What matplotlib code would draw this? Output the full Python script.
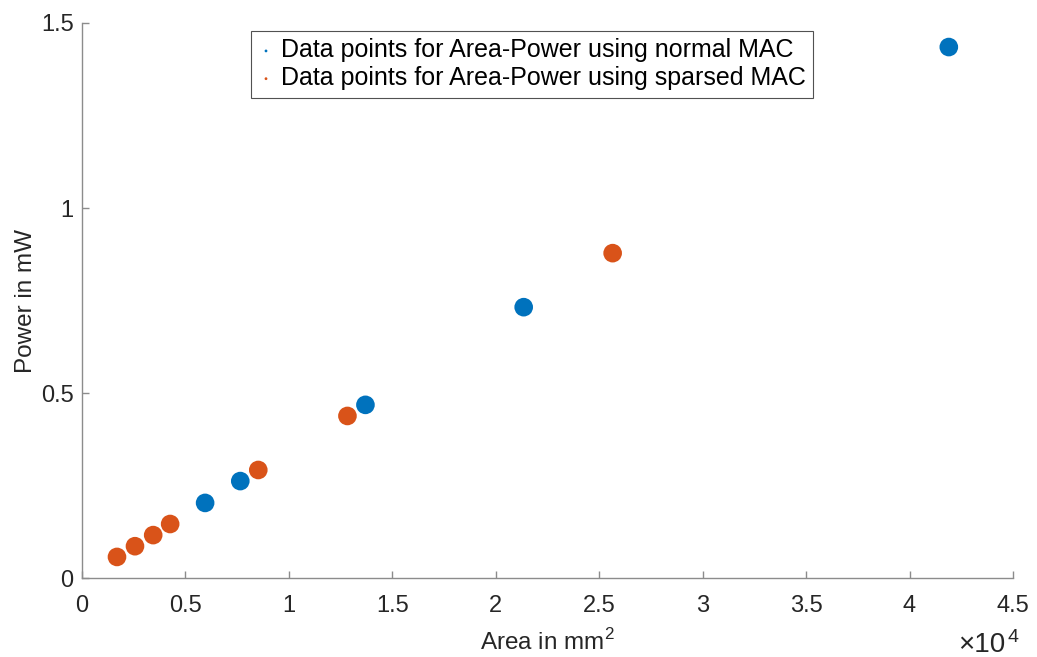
import matplotlib
matplotlib.use("Agg")
import matplotlib.pyplot as plt
from matplotlib.ticker import FuncFormatter

plt.rcParams['font.family'] = ['Liberation Sans', 'DejaVu Sans']
plt.rcParams['mathtext.fontset'] = 'custom'
plt.rcParams['mathtext.rm'] = 'Liberation Sans'

# Area (mm^2) and power (mW)
normal_area = [5950, 7650, 13700, 21350, 41900]
normal_power = [0.203, 0.262, 0.468, 0.732, 1.435]

sparse_area = [1690, 2560, 3440, 4260, 8520, 12830, 25650]
sparse_power = [0.057, 0.086, 0.116, 0.146, 0.292, 0.438, 0.878]

x_ticks = [0, 5000, 10000, 15000, 20000, 25000, 30000, 35000, 40000, 45000]
y_ticks = [0, 0.5, 1, 1.5]

fig = plt.figure(figsize=(10.37, 6.57), dpi=100)
ax = fig.add_axes([0.0791, 0.1202, 0.8977, 0.8448])

ax.scatter(normal_area, normal_power, s=180, color="#0072BD", edgecolors="none",
           label="Data points for Area-Power using normal MAC", zorder=3)
ax.scatter(sparse_area, sparse_power, s=180, color="#D95319", edgecolors="none",
           label="Data points for Area-Power using sparsed MAC", zorder=3)

ax.set_xlim(0, 45000)
ax.set_ylim(0, 1.5)
ax.set_xticks(x_ticks)
ax.set_yticks(y_ticks)
ax.xaxis.set_major_formatter(FuncFormatter(lambda v, p: f"{v/1e4:g}"))
ax.yaxis.set_major_formatter(FuncFormatter(lambda v, p: f"{v:g}"))

for side in ["top", "right"]:
    ax.spines[side].set_visible(False)
for side in ["left", "bottom"]:
    ax.spines[side].set_color("#8c8c8c")
    ax.spines[side].set_linewidth(1.0)
ax.tick_params(direction="in", length=5, width=1.0, color="#8c8c8c",
               labelsize=17, labelcolor="#262626")
ax.tick_params(axis="x", pad=12)
ax.tick_params(axis="y", pad=6)

ax.set_xlabel("Area in mm$^2$", fontsize=17.5, color="#262626", labelpad=9)
ax.set_ylabel("Power in mW", fontsize=17.5, color="#262626", labelpad=3)

# exponent label under the x axis, MATLAB style
fig.text(958 / 1037, 5 / 657, "×10", fontsize=20, color="#262626", va="baseline")
fig.text(1007 / 1037, 15 / 657, "4", fontsize=14, color="#262626", va="baseline")

leg = ax.legend(loc="upper left", bbox_to_anchor=(251 / 1037, 1 - 31 / 657),
                bbox_transform=fig.transFigure, fontsize=18, markerscale=0.15,
                frameon=True, fancybox=False, handletextpad=0.3, handlelength=0.6,
                borderpad=0.3, labelspacing=0.15, borderaxespad=0)
leg.get_frame().set_edgecolor("#262626")
leg.get_frame().set_linewidth(0.8)

fig.savefig("out.png", dpi=100)
